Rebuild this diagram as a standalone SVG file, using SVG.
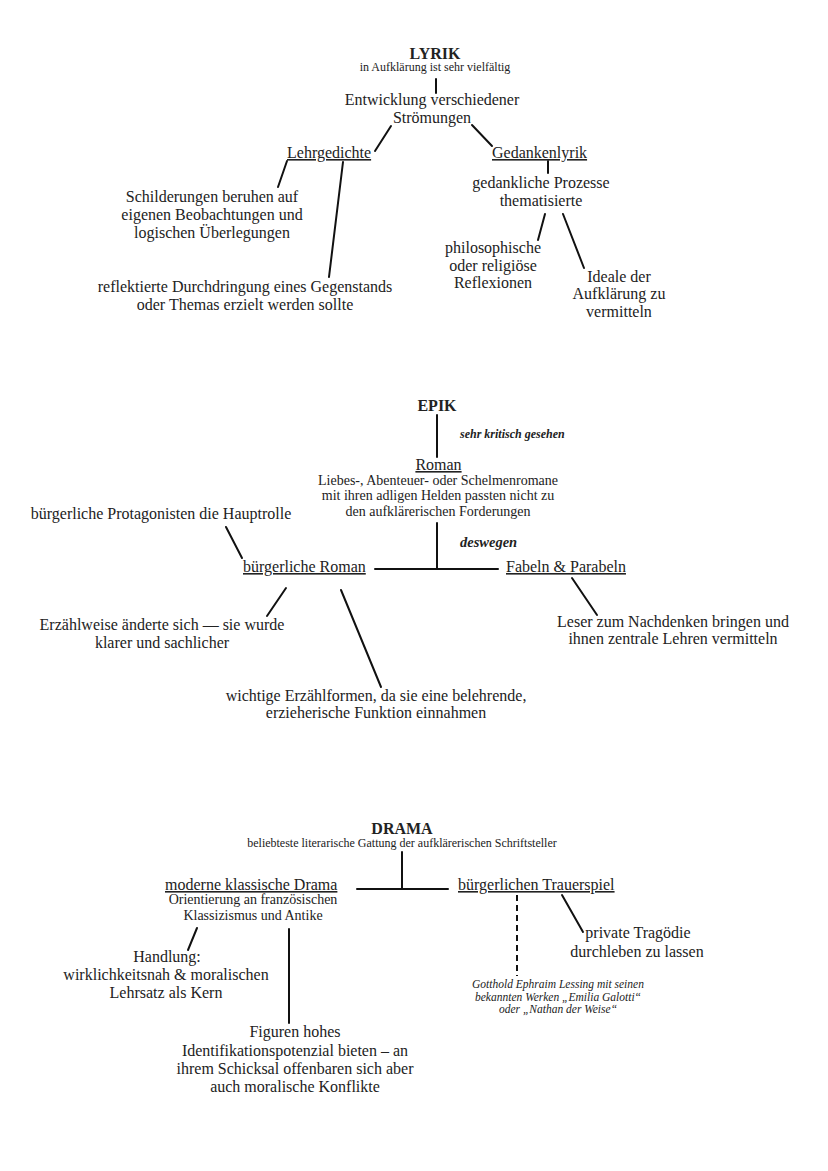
<svg xmlns="http://www.w3.org/2000/svg" width="828" height="1171" viewBox="0 0 828 1171">
<style>
text{font-family:"Liberation Serif","Times New Roman",serif;fill:#222;}
.t{font-size:16px;font-weight:bold;text-anchor:middle;}
.m{font-size:16px;text-anchor:middle;}
.s{font-size:14px;text-anchor:middle;}
.xs{font-size:12px;text-anchor:middle;}
.u{font-size:16px;text-decoration:underline;}
.bi{font-size:12px;font-weight:bold;font-style:italic;}
.it{font-size:11.5px;font-style:italic;text-anchor:middle;}
.c line{stroke:#111;stroke-width:2;stroke-linecap:round;}
.c line.d{stroke-dasharray:6 4;stroke-linecap:butt;}
</style>
<rect width="828" height="1171" fill="#fff"/>
<g class="c" id="connectors">
<line x1="436" y1="79" x2="436" y2="93"/>
<line x1="391" y1="126" x2="375" y2="151"/>
<line x1="472" y1="125" x2="492" y2="146"/>
<line x1="287" y1="161" x2="278" y2="187"/>
<line x1="343" y1="162" x2="329" y2="277"/>
<line x1="548" y1="161" x2="548" y2="173"/>
<line x1="545" y1="214" x2="538" y2="240"/>
<line x1="563" y1="214" x2="584" y2="268"/>
<line x1="437" y1="415" x2="437" y2="457"/>
<line x1="437" y1="523" x2="437" y2="569"/>
<line x1="375" y1="569" x2="498" y2="569"/>
<line x1="226" y1="527" x2="242" y2="558"/>
<line x1="286" y1="588" x2="267" y2="616"/>
<line x1="341" y1="590" x2="381" y2="687"/>
<line x1="572" y1="578" x2="597" y2="615"/>
<line x1="402" y1="852" x2="402" y2="889"/>
<line x1="357" y1="889" x2="448" y2="889"/>
<line class="d" x1="517" y1="895" x2="517" y2="976"/>
<line x1="562" y1="895" x2="583" y2="932"/>
<line x1="197" y1="928" x2="188" y2="950"/>
<line x1="289" y1="929" x2="289" y2="1023"/>
</g>
<g id="lyrik"><text class="t" x="435" y="59">LYRIK</text><text class="xs" x="435" y="71">in Aufklärung ist sehr vielfältig</text></g>
<g id="entwicklung"><text class="m" x="432" y="105">Entwicklung verschiedener</text><text class="m" x="432" y="123">Strömungen</text></g>
<g id="lehrgedichte"><text class="u" x="287" y="158">Lehrgedichte</text></g>
<g id="gedankenlyrik"><text class="u" x="492" y="158">Gedankenlyrik</text></g>
<g id="schilderungen"><text class="m" x="212" y="202">Schilderungen beruhen auf</text><text class="m" x="212" y="220">eigenen Beobachtungen und</text><text class="m" x="212" y="238">logischen Überlegungen</text></g>
<g id="reflektierte"><text class="m" x="245" y="292">reflektierte Durchdringung eines Gegenstands</text><text class="m" x="245" y="310">oder Themas erzielt werden sollte</text></g>
<g id="prozesse"><text class="m" x="541" y="188">gedankliche Prozesse</text><text class="m" x="541" y="206">thematisierte</text></g>
<g id="philosophische"><text class="m" x="493" y="253">philosophische</text><text class="m" x="493" y="271">oder religiöse</text><text class="m" x="493" y="288">Reflexionen</text></g>
<g id="ideale"><text class="m" x="619" y="282">Ideale der</text><text class="m" x="619" y="299">Aufklärung zu</text><text class="m" x="619" y="317">vermitteln</text></g>
<g id="epik"><text class="t" x="437" y="411">EPIK</text></g>
<g id="kritisch"><text class="bi" x="460" y="438">sehr kritisch gesehen</text></g>
<g id="roman"><text class="u" x="438.5" y="470" text-anchor="middle">Roman</text><text class="s" x="438" y="485">Liebes-, Abenteuer- oder Schelmenromane</text><text class="s" x="438" y="500">mit ihren adligen Helden passten nicht zu</text><text class="s" x="438" y="516">den aufklärerischen Forderungen</text></g>
<g id="deswegen"><text class="bi" x="460" y="547" style="font-size:14.5px">deswegen</text></g>
<g id="buergerlicheroman"><text class="u" x="243" y="572">bürgerliche Roman</text></g>
<g id="fabeln"><text class="u" x="506" y="572">Fabeln &amp; Parabeln</text></g>
<g id="protagonisten"><text class="m" x="161" y="519">bürgerliche Protagonisten die Hauptrolle</text></g>
<g id="erzaehlweise"><text class="m" x="162" y="630">Erzählweise änderte sich — sie wurde</text><text class="m" x="162" y="648">klarer und sachlicher</text></g>
<g id="erzaehlformen"><text class="m" x="376" y="701">wichtige Erzählformen, da sie eine belehrende,</text><text class="m" x="376" y="718">erzieherische Funktion einnahmen</text></g>
<g id="leser"><text class="m" x="673" y="627">Leser zum Nachdenken bringen und</text><text class="m" x="673" y="644">ihnen zentrale Lehren vermitteln</text></g>
<g id="drama"><text class="t" x="402" y="834">DRAMA</text><text class="xs" x="402" y="847">beliebteste literarische Gattung der aufklärerischen Schriftsteller</text></g>
<g id="moderne"><text class="u" x="165" y="890">moderne klassische Drama</text><text class="s" x="253" y="904">Orientierung an französischen</text><text class="s" x="253" y="920">Klassizismus und Antike</text></g>
<g id="trauerspiel"><text class="u" x="458" y="890">bürgerlichen Trauerspiel</text></g>
<g id="tragoedie"><text class="m" x="638" y="938">private Tragödie</text><text class="m" x="637" y="957">durchleben zu lassen</text></g>
<g id="lessing"><text class="it" x="558" y="988">Gotthold Ephraim Lessing mit seinen</text><text class="it" x="558" y="1001">bekannten Werken „Emilia Galotti“</text><text class="it" x="558" y="1013">oder „Nathan der Weise“</text></g>
<g id="handlung"><text class="m" x="167" y="962">Handlung:</text><text class="m" x="166" y="980">wirklichkeitsnah &amp; moralischen</text><text class="m" x="166" y="998">Lehrsatz als Kern</text></g>
<g id="figuren"><text class="m" x="295" y="1037">Figuren hohes</text><text class="m" x="295" y="1056">Identifikationspotenzial bieten – an</text><text class="m" x="295" y="1074">ihrem Schicksal offenbaren sich aber</text><text class="m" x="295" y="1092">auch moralische Konflikte</text></g>
</svg>
